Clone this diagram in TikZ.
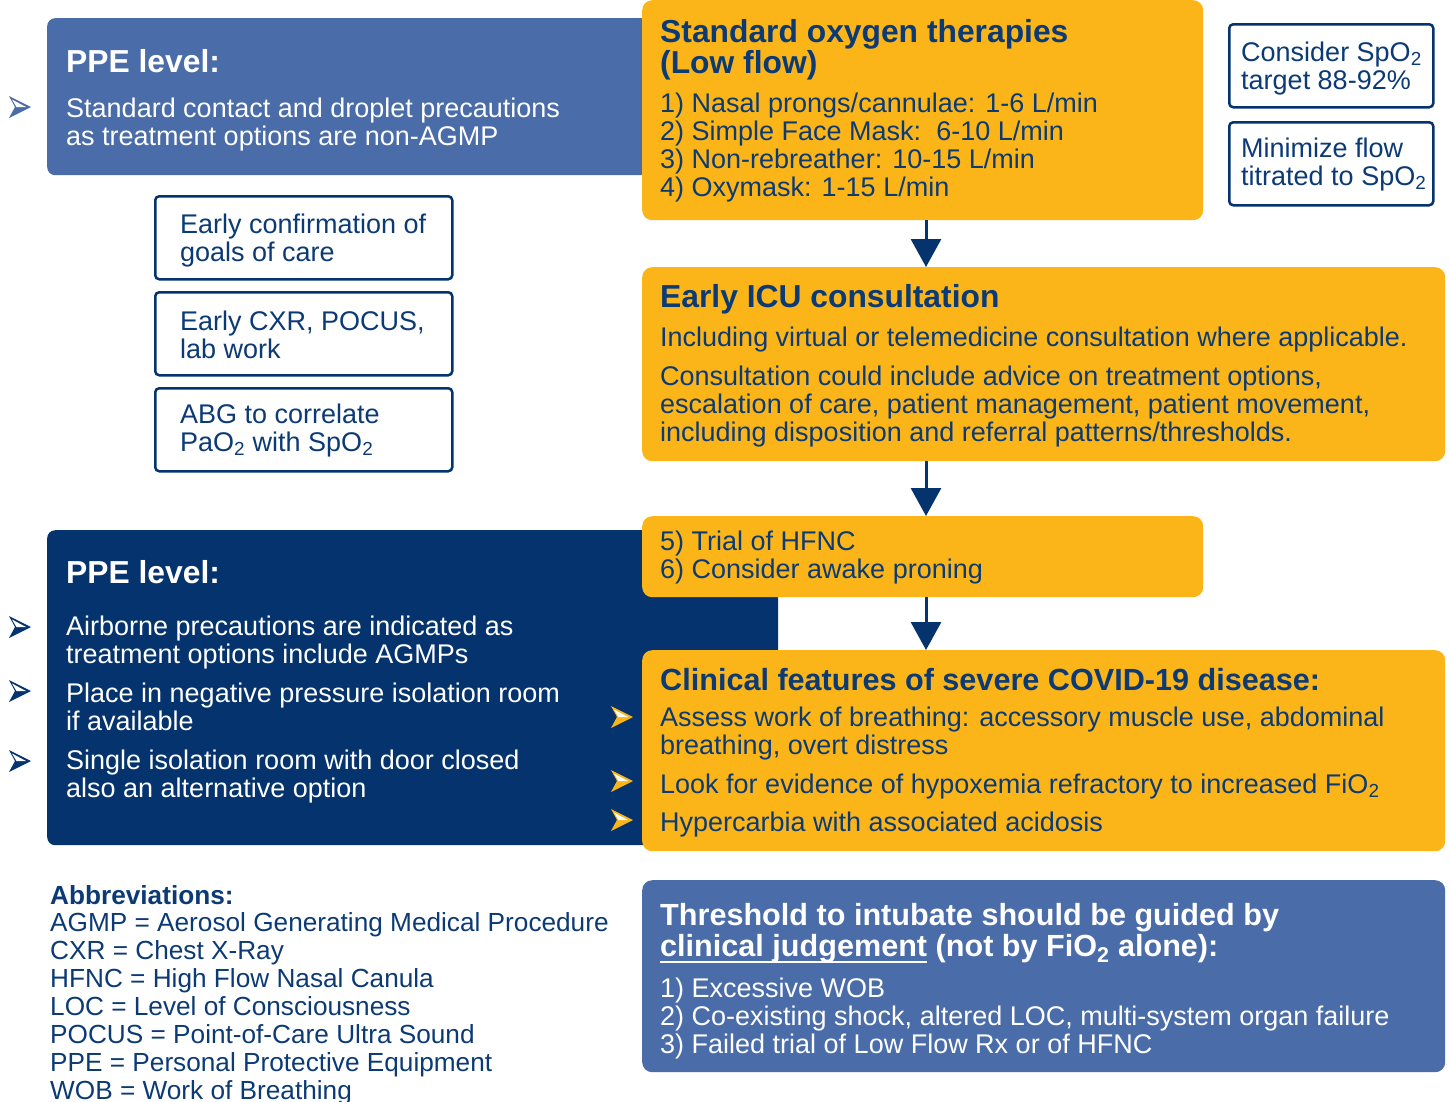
\documentclass[tikz,border=0pt]{standalone}
\usepackage{fontspec}
\setmainfont{Liberation Sans}
\usetikzlibrary{arrows.meta}

\definecolor{ppeblue}{HTML}{4A6CA8}
\definecolor{navy}{HTML}{05336E}
\definecolor{amber}{HTML}{FBB518}
\definecolor{ink}{HTML}{0B3A75}

\tikzset{
  box/.style={rectangle, anchor=north west, inner sep=0, rounded corners=10pt},
  note/.style={box, draw=navy, line width=2.5pt, fill=white, rounded corners=4pt,
    minimum width=297, minimum height=83},
  % base of a text = baseline of its last line
  body/.style={anchor=base west, inner sep=0, align=left,
    font=\fontsize{27}{28}\selectfont},
  head/.style={body, font=\fontsize{31.8}{30.5}\selectfont\bfseries},
  subhead/.style={body, font=\fontsize{30.6}{31}\selectfont\bfseries},
  flow/.style={draw=navy, line width=3pt, -{Triangle[width=30pt,length=28pt]}},
  pics/dart/.style={code={
    \fill[#1] (11,0) -- (-11,-11) -- (-5,0) -- (-11,11) -- cycle;
    \fill[white] (6,0) -- (-8,-7.5) -- (-3.5,0) -- cycle;
  }}
}

\begin{document}
\begin{tikzpicture}[x=1pt,y=-1pt]
  \useasboundingbox (0,0) rectangle (1450,1101);
  % ppe panels, behind the flow
  \node[box, fill=ppeblue, minimum width=620, minimum height=157, rounded corners=8pt] (ppeone) at (47,18) {};
  \node[box, fill=navy, minimum width=731, minimum height=315, rounded corners=8pt] (ppetwo) at (47,530) {};
  % flow of therapies
  \node[box, fill=amber, minimum width=561, minimum height=220] (lowflow) at (642,0) {};
  \node[box, fill=amber, minimum width=803, minimum height=194] (icu) at (642,267) {};
  \node[box, fill=amber, minimum width=561, minimum height=81] (hfnc) at (642,516) {};
  \node[box, fill=amber, minimum width=803, minimum height=201] (severe) at (642,650) {};
  \node[box, fill=ppeblue, minimum width=803, minimum height=192] (intubate) at (642,880) {};
  % side notes
  \node[note, minimum width=204] (target) at (1228,23) {};
  \node[note, minimum width=204] (titrate) at (1228,121) {};
  \node[note] (goals) at (154,195) {};
  \node[note] (imaging) at (154,291) {};
  \node[note] (abg) at (154,387) {};

  \coordinate (arrowx) at (926,0);
  \draw[flow] (lowflow.south -| arrowx) -- (icu.north -| arrowx);
  \draw[flow] (icu.south -| arrowx) -- (hfnc.north -| arrowx);
  \draw[flow] (hfnc.south -| arrowx) -- (severe.north -| arrowx);

  % texts
  \node[head, text=white] (ppeonehd) at (66,72) {PPE level:};
  \node[body, text=white] (ppeonetxt) at (66,145) {Standard contact and droplet precautions\\as treatment options are non-AGMP};
  \pic at (20,107) {dart=ppeblue};

  \node[head, text=ink] (lowflowhd) at (660,73) {Standard oxygen therapies\\(Low flow)};
  \node[body, text=ink] (lowflowtxt) at (660,196) {1) Nasal prongs/cannulae: 1-6 L/min\\2) Simple Face Mask:\ \ 6-10 L/min\\3) Non-rebreather: 10-15 L/min\\4) Oxymask: 1-15 L/min};

  \node[body, text=ink] (targettxt) at (1241,89) {Consider SpO\textsubscript{2}\\target 88-92\%};
  \node[body, text=ink] (titratetxt) at (1241,185) {Minimize flow\\titrated to SpO\textsubscript{2}};

  \node[body, text=ink] (goalstxt) at (180,261) {Early confirmation of\\goals of care};
  \node[body, text=ink] (imagingtxt) at (180,358) {Early CXR, POCUS,\\lab work};
  \node[body, text=ink] (abgtxt) at (180,451) {ABG to correlate\\PaO\textsubscript{2} with SpO\textsubscript{2}};

  \node[head, text=ink] (icuhd) at (660,307) {Early ICU consultation};
  \node[body, text=ink] (icuone) at (660,346) {Including virtual or telemedicine consultation where applicable.};
  \node[body, text=ink] (icutwo) at (660,441) {Consultation could include advice on treatment options,\\escalation of care, patient management, patient movement,\\including disposition and referral patterns/thresholds.};

  \node[body, text=ink] (hfnctxt) at (660,578) {5) Trial of HFNC\\6) Consider awake proning};

  \node[head, text=white] (ppetwohd) at (66,583) {PPE level:};
  \node[body, text=white] (airborne) at (66,663) {Airborne precautions are indicated as\\treatment options include AGMPs};
  \node[body, text=white] (negative) at (66,730) {Place in negative pressure isolation room\\if available};
  \node[body, text=white] (single) at (66,797) {Single isolation room with door closed\\also an alternative option};
  \foreach \y in {627,691,761}
    \pic at (20,\y) {dart=navy};

  \node[subhead, text=ink] (severehd) at (660,690) {Clinical features of severe COVID-19 disease:};
  \node[body, text=ink] (wob) at (660,754) {Assess work of breathing: accessory muscle use, abdominal\\breathing, overt distress};
  \node[body, text=ink] (hypox) at (660,793) {Look for evidence of hypoxemia refractory to increased FiO\textsubscript{2}};
  \node[body, text=ink] (hypercarb) at (660,831) {Hypercarbia with associated acidosis};
  \foreach \y in {717,781,820}
    \pic at (622,\y) {dart=amber};

  \node[subhead, text=white] (intubatehd) at (660,956) {Threshold to intubate should be guided by\\clinical judgement (not by FiO\textsubscript{2} alone):};
  \draw[white, line width=2.5pt] (660,962) -- (927,962);
  \node[body, text=white] (intubatetxt) at (660,1053) {1) Excessive WOB\\2) Co-existing shock, altered LOC, multi-system organ failure\\3) Failed trial of Low Flow Rx or of HFNC};

  \node[body, text=ink, font=\fontsize{26.2}{28}\selectfont\bfseries] (abbrhd) at (50,904) {Abbreviations:};
  \node[body, text=ink, font=\fontsize{26.2}{28}\selectfont] (abbr) at (50,1099) {AGMP = Aerosol Generating Medical Procedure\\CXR = Chest X-Ray\\HFNC = High Flow Nasal Canula\\LOC = Level of Consciousness\\POCUS = Point-of-Care Ultra Sound\\PPE = Personal Protective Equipment\\WOB = Work of Breathing};
\end{tikzpicture}
\end{document}
